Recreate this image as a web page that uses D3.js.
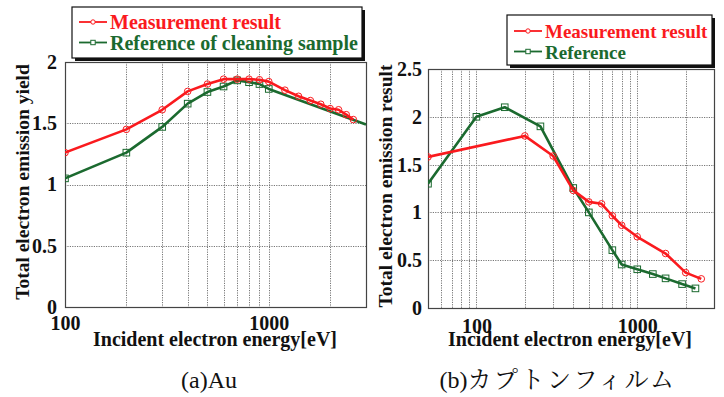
<!DOCTYPE html>
<html>
<head>
<meta charset="utf-8">
<script src="https://cdn.jsdelivr.net/npm/d3@7"></script>
<style>
  body { margin: 0; background: #fff; }
</style>
</head>
<body>
<svg id="chart" width="724" height="397"></svg>
<script>
const WIDTH = 724
const HEIGHT = 397

// (a) Au
const auEnergy = [100, 200, 300, 400, 500, 600, 700, 800, 900, 1000, 1200, 1400, 1600, 1800, 2000, 2200, 2400, 2600]
const auMeasured = [1.26, 1.45, 1.61, 1.76, 1.82, 1.86, 1.86, 1.86, 1.855, 1.84, 1.77, 1.72, 1.685, 1.655, 1.62, 1.61, 1.57, 1.53]
const auRefEnergy = [100, 200, 300, 400, 500, 600, 700, 800, 900, 1000, 3000]
const auReference = [1.05, 1.26, 1.47, 1.66, 1.755, 1.80, 1.85, 1.835, 1.82, 1.78, 1.49]

// (b) Kapton film
const kpEnergy = [50, 200, 300, 400, 500, 600, 700, 800, 1000, 1500, 2000, 2500]
const kpMeasured = [1.58, 1.80, 1.59, 1.23, 1.11, 1.09, 0.965, 0.865, 0.745, 0.57, 0.37, 0.305]
const kpRefEnergy = [50, 100, 150, 250, 400, 500, 700, 800, 1000, 1250, 1500, 1900, 2300]
const kpReference = [1.30, 2.00, 2.10, 1.90, 1.255, 1.00, 0.605, 0.455, 0.405, 0.355, 0.31, 0.25, 0.205]

const auYTicks = [0, 0.5, 1, 1.5, 2]
const kpYTicks = [0, 0.5, 1, 1.5, 2, 2.5]
const xLabelTicks = [100, 1000]

const RED = "#fa1a1e"
const GREEN = "#1b6a2f"
const SERIF = "'Liberation Serif'"
const JP = "'Noto Serif CJK JP'"

const svg = d3.select("#chart")

const serifText = (sel) => sel.style("font-family", SERIF)

const drawPanel = (p) => {
  const x = d3.scaleLog(p.xDomain, [p.left, p.right])
  const y = d3.scaleLinear(p.yDomain, [p.bottom, p.top])
  const g = svg.append("g")

  // Grid
  g.append("g")
    .attr("stroke", "#777")
    .attr("stroke-width", 1)
    .attr("stroke-dasharray", "1.2,1.2")
    .selectAll("line")
    .data(x.ticks().filter(d => d > p.xDomain[0] && d < p.xDomain[1]))
    .join("line")
      .attr("x1", d => Math.round(x(d)) + 0.5)
      .attr("x2", d => Math.round(x(d)) + 0.5)
      .attr("y1", p.top)
      .attr("y2", p.bottom)

  g.append("g")
    .attr("stroke", "#777")
    .attr("stroke-width", 1)
    .attr("stroke-dasharray", "1.2,1.2")
    .selectAll("line")
    .data(p.yTicks.slice(1, -1))
    .join("line")
      .attr("x1", p.left)
      .attr("x2", p.right)
      .attr("y1", d => Math.round(y(d)) + 0.5)
      .attr("y2", d => Math.round(y(d)) + 0.5)

  // Frame
  g.append("rect")
    .attr("x", p.left + 0.5)
    .attr("y", p.top + 0.5)
    .attr("width", p.right - p.left)
    .attr("height", p.bottom - p.top)
    .attr("fill", "none")
    .attr("stroke", "#444")
    .attr("stroke-width", 1.2)

  // Axes
  const yAxis = d3.axisLeft(y).tickValues(p.yTicks).tickSize(0).tickPadding(p.yPad)
    .tickFormat(d3.format(""))
  g.append("g")
    .attr("transform", `translate(${p.left},0)`)
    .call(yAxis)
    .call(a => a.select(".domain").remove())
    .call(a => a.selectAll("text")
      .call(serifText)
      .attr("font-weight", "bold")
      .attr("font-size", 20)
      .attr("fill", "#111"))

  const xAxis = d3.axisBottom(x).tickValues(xLabelTicks).tickSize(0).tickPadding(p.xPad)
    .tickFormat(d3.format(""))
  g.append("g")
    .attr("transform", `translate(0,${p.bottom})`)
    .call(xAxis)
    .call(a => a.select(".domain").remove())
    .call(a => a.selectAll("text")
      .call(serifText)
      .attr("font-weight", "bold")
      .attr("font-size", 20)
      .attr("fill", "#111"))

  g.append("text")
    .call(serifText)
    .attr("x", p.xTitleX)
    .attr("y", 346)
    .attr("text-anchor", "middle")
    .attr("font-weight", "bold")
    .attr("font-size", 20)
    .attr("fill", "#111")
    .text("Incident electron energy[eV]")

  g.append("text")
    .call(serifText)
    .attr("transform", `translate(${p.yTitleX},${p.yTitleY}) rotate(-90)`)
    .attr("text-anchor", "middle")
    .attr("font-weight", "bold")
    .attr("font-size", 19.5)
    .attr("fill", "#111")
    .text(p.yTitle)

  // Series
  const clipId = "clip" + p.id
  svg.append("clipPath").attr("id", clipId)
    .append("rect")
      .attr("x", p.left).attr("y", p.top - 6)
      .attr("width", p.right - p.left + 1).attr("height", p.bottom - p.top + 6)

  const line = d3.line().x(d => x(d[0])).y(d => y(d[1]))
  const plot = g.append("g").attr("clip-path", `url(#${clipId})`)

  const series = [
    { xs: p.refX, ys: p.refY, color: GREEN, shape: "square", marks: p.refMarks },
    { xs: p.measX, ys: p.measY, color: RED, shape: "circle", marks: p.measX.length }
  ]
  series.forEach(s => {
    const pts = s.xs.map((v, i) => [v, s.ys[i]])
    plot.append("path")
      .attr("d", line(pts))
      .attr("fill", "none")
      .attr("stroke", s.color)
      .attr("stroke-width", 2.6)
      .attr("stroke-linejoin", "round")
    const m = plot.append("g")
      .attr("fill", "none")
      .attr("stroke", s.color)
      .attr("stroke-width", 1)
      .selectAll("*")
      .data(pts.slice(0, s.marks))
    if (s.shape === "circle") {
      m.join("circle")
        .attr("cx", d => x(d[0]))
        .attr("cy", d => y(d[1]))
        .attr("r", 3.3)
    } else {
      m.join("rect")
        .attr("x", d => x(d[0]) - 3.3)
        .attr("y", d => y(d[1]) - 3.3)
        .attr("width", 6.6)
        .attr("height", 6.6)
    }
  })

  // Legend
  const lg = g.append("g")
  lg.append("rect")
    .attr("x", p.legend.x + 3).attr("y", p.legend.y + 3)
    .attr("width", p.legend.w).attr("height", p.legend.h)
    .attr("fill", "#111")
  lg.append("rect")
    .attr("x", p.legend.x).attr("y", p.legend.y)
    .attr("width", p.legend.w).attr("height", p.legend.h)
    .attr("fill", "#fff")
    .attr("stroke", "#111")
    .attr("stroke-width", 1.2)
  const items = [
    { label: "Measurement result", color: RED, shape: "circle" },
    { label: p.refLabel, color: GREEN, shape: "square" }
  ]
  items.forEach((it, i) => {
    const ly = p.legend.y + p.legend.first + i * 20.5
    const x0 = p.legend.x + 7
    const x1 = x0 + 28
    lg.append("line")
      .attr("x1", x0).attr("x2", x1)
      .attr("y1", ly).attr("y2", ly)
      .attr("stroke", it.color)
      .attr("stroke-width", 1.8)
    if (it.shape === "circle") {
      lg.append("circle")
        .attr("cx", (x0 + x1) / 2).attr("cy", ly).attr("r", 2.2)
        .attr("fill", "#fff").attr("stroke", it.color).attr("stroke-width", 1)
    } else {
      lg.append("rect")
        .attr("x", (x0 + x1) / 2 - 2.2).attr("y", ly - 2.2)
        .attr("width", 4.4).attr("height", 4.4)
        .attr("fill", "#fff").attr("stroke", it.color).attr("stroke-width", 1)
    }
    lg.append("text")
      .call(serifText)
      .attr("x", x1 + 3)
      .attr("y", ly + 7)
      .attr("font-weight", "bold")
      .attr("font-size", p.legend.font)
      .attr("fill", it.color)
      .text(it.label)
  })

  // Caption: latin part in Times-like serif, Japanese part in a Mincho-like face
  const cap = g.append("text")
    .call(serifText)
    .attr("x", p.captionX)
    .attr("y", 388)
    .attr("text-anchor", "middle")
    .attr("font-size", 24)
    .attr("fill", "#111")
  cap.append("tspan")
    .call(serifText)
    .text(p.caption[0])
  if (p.caption[1]) {
    cap.append("tspan")
      .style("font-family", JP)
      .attr("letter-spacing", 2.5)
      .text(p.caption[1])
  }
}

drawPanel({
  id: "a",
  left: 65, right: 366, top: 62, bottom: 307,
  xDomain: [100, 3000], yDomain: [0, 2], yTicks: auYTicks,
  yPad: 8, xPad: 9,
  measX: auEnergy, measY: auMeasured,
  refX: auRefEnergy, refY: auReference, refMarks: auRefEnergy.length - 1,
  refLabel: "Reference of cleaning sample",
  yTitle: "Total electron emission yield", yTitleX: 29, yTitleY: 182,
  xTitleX: 215,
  legend: { x: 72, y: 7, w: 290, h: 51, first: 15, font: 20 },
  caption: ["(a)Au"], captionX: 209
})

drawPanel({
  id: "b",
  left: 428, right: 714, top: 69, bottom: 308,
  xDomain: [50, 3000], yDomain: [0, 2.5], yTicks: kpYTicks,
  yPad: 6, xPad: 11,
  measX: kpEnergy, measY: kpMeasured,
  refX: kpRefEnergy, refY: kpReference, refMarks: kpRefEnergy.length,
  refLabel: "Reference",
  yTitle: "Total electron emission result", yTitleX: 392, yTitleY: 186,
  xTitleX: 570,
  legend: { x: 507, y: 15, w: 205, h: 50, first: 16, font: 19 },
  caption: ["(b)", "カプトンフィルム"], captionX: 558
})
</script>
</body>
</html>
